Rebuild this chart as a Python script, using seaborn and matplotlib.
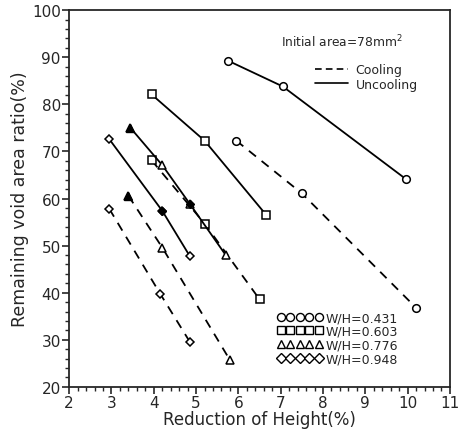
import numpy as np
import pandas as pd
import matplotlib
matplotlib.use("Agg")
import matplotlib.pyplot as plt
from matplotlib.lines import Line2D
from matplotlib.ticker import MultipleLocator
import seaborn as sns

# data
wh_labels = ["W/H=0.431", "W/H=0.603", "W/H=0.776", "W/H=0.948"]
markers = ["o", "s", "^", "D"]

unc_x = [[5.75, 7.05, 9.95],
         [3.95, 5.2, 6.65],
         [3.45, 4.2, 4.85, 5.7],
         [2.95, 4.2, 4.85]]
unc_y = [[89.3, 83.8, 64.2],
         [82.1, 72.3, 56.6],
         [75.0, 67.1, 58.9, 48.0],
         [72.6, 57.4, 47.8]]

cool_x = [[5.95, 7.5, 10.2],
          [3.95, 5.2, 6.5],
          [3.4, 4.2, 5.8],
          [2.95, 4.15, 4.85]]
cool_y = [[72.3, 61.1, 36.8],
          [68.1, 54.7, 38.6],
          [60.6, 49.6, 25.7],
          [57.8, 39.8, 29.6]]

sns.set_style("ticks")
plt.rcParams["font.family"] = ["DejaVu Sans"]

fig = plt.figure(figsize=(4.61, 4.31), dpi=100)
ax = fig.add_axes([0.150, 0.100, 0.826, 0.874])

for i in range(4):
    ms = 5.5 if markers[i] != "D" else 4.5
    df_u = pd.DataFrame({"x": unc_x[i], "y": unc_y[i]})
    sns.lineplot(data=df_u, x="x", y="y", sort=False, ax=ax, color="black",
                 lw=1.3, linestyle="-", marker=markers[i], markersize=ms,
                 markerfacecolor="white", markeredgecolor="black", markeredgewidth=1.1)
    df_c = pd.DataFrame({"x": cool_x[i], "y": cool_y[i]})
    sns.lineplot(data=df_c, x="x", y="y", sort=False, ax=ax, color="black",
                 lw=1.3, linestyle=(0, (5, 4)), marker=markers[i], markersize=ms,
                 markerfacecolor="white", markeredgecolor="black", markeredgewidth=1.1)

# filled markers seen in the reference
ax.plot(unc_x[2][0], unc_y[2][0], "^", color="black", markersize=6)
ax.plot(cool_x[2][0], cool_y[2][0], "^", color="black", markersize=6)
ax.plot(unc_x[3][1], unc_y[3][1], "D", color="black", markersize=4.5)
ax.plot(unc_x[2][2], unc_y[2][2], "D", color="black", markersize=4.5)

ax.set_xlim(2, 11)
ax.set_ylim(20, 100)
ax.xaxis.set_major_locator(MultipleLocator(1))
ax.xaxis.set_minor_locator(MultipleLocator(0.2))
ax.yaxis.set_major_locator(MultipleLocator(10))
ax.yaxis.set_minor_locator(MultipleLocator(2))
ax.tick_params(which="major", direction="out", length=5, width=1.2, labelsize=11, pad=1)
ax.tick_params(which="minor", direction="out", length=3, width=1)
for s in ax.spines.values():
    s.set_linewidth(1.3)

ax.set_xlabel("Reduction of Height(%)", fontsize=12, labelpad=0)
ax.set_ylabel("Remaining void area ratio(%)", fontsize=12.5, labelpad=2)

ax.text(0.557, 0.905, "Initial area=78mm$^2$", transform=ax.transAxes, fontsize=8.8)

style_handles = [Line2D([], [], color="black", lw=1.2, linestyle=(0, (4, 2.5))),
                 Line2D([], [], color="black", lw=1.2)]
leg1 = ax.legend(style_handles, ["Cooling", "Uncooling"], loc="upper right",
                 bbox_to_anchor=(0.915, 0.86), frameon=False, fontsize=9,
                 handlelength=2.6, handletextpad=0.6, labelspacing=0.15,
                 borderpad=0, borderaxespad=0)
ax.add_artist(leg1)

mk_handles = [Line2D([], [], linestyle="none", marker=m, color="black",
                     markerfacecolor="white", markeredgewidth=1.0,
                     markersize=5.8 if m != "D" else 4.8)
              for m in markers]
ax.legend(mk_handles, wh_labels, loc="lower right", bbox_to_anchor=(0.865, 0.058),
          frameon=False, fontsize=9, numpoints=5, handlelength=3.6,
          handletextpad=0.3, labelspacing=0.05, borderpad=0, borderaxespad=0)

fig.savefig("out.png", dpi=100)
